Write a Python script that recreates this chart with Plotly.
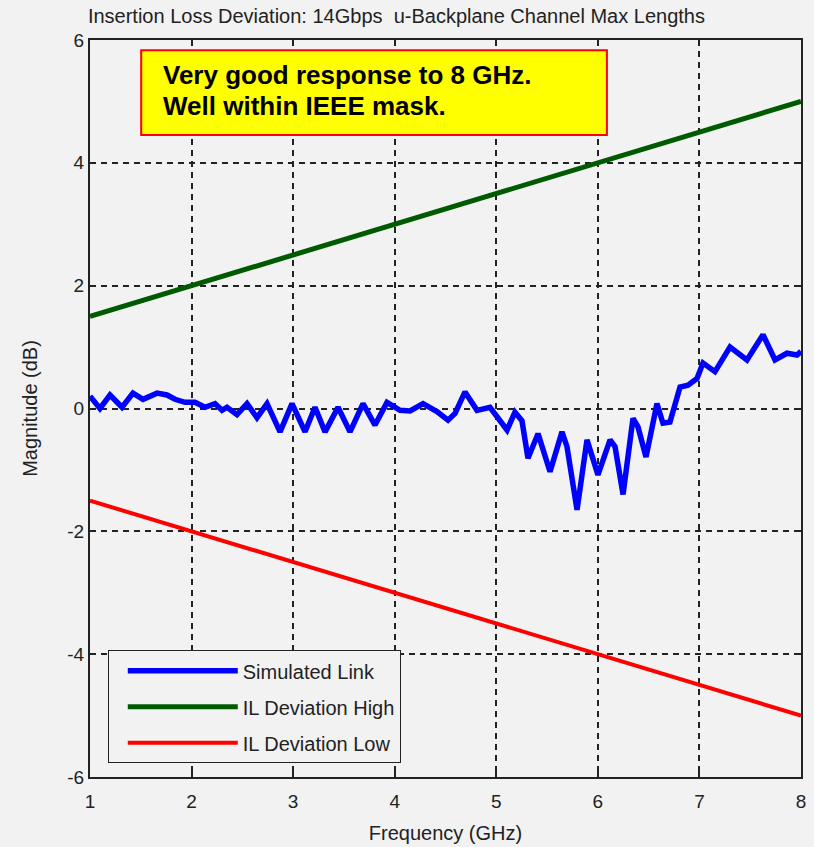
import plotly.graph_objects as go

# ---- data ----
freq_sim = [1.000, 1.098, 1.197, 1.315, 1.423, 1.522, 1.660, 1.758, 1.837, 1.935,
            2.034, 2.132, 2.231, 2.300, 2.349, 2.447, 2.546, 2.644, 2.743, 2.871,
            2.989, 3.117, 3.215, 3.314, 3.442, 3.560, 3.688, 3.806, 3.924, 4.052,
            4.151, 4.279, 4.416, 4.525, 4.594, 4.692, 4.810, 4.938, 5.106, 5.184,
            5.253, 5.312, 5.411, 5.529, 5.647, 5.696, 5.795, 5.893, 6.001, 6.120,
            6.169, 6.248, 6.346, 6.395, 6.474, 6.582, 6.641, 6.710, 6.809, 6.888,
            6.976, 7.035, 7.153, 7.301, 7.468, 7.626, 7.744, 7.862, 7.961, 8.000]
mag_sim = [0.20, 0.00, 0.22, 0.02, 0.25, 0.15, 0.25, 0.22, 0.15, 0.10,
           0.10, 0.02, 0.08, -0.03, 0.02, -0.10, 0.08, -0.15, 0.08, -0.38,
           0.08, -0.38, 0.02, -0.38, 0.02, -0.38, 0.08, -0.27, 0.10, -0.03,
           -0.04, 0.08, -0.05, -0.19, -0.08, 0.27, -0.03, 0.02, -0.35, -0.06,
           -0.20, -0.81, -0.41, -1.03, -0.38, -0.62, -1.65, -0.51, -1.08, -0.51,
           -0.62, -1.40, -0.16, -0.30, -0.79, 0.08, -0.24, -0.22, 0.35, 0.38,
           0.49, 0.74, 0.60, 1.00, 0.79, 1.20, 0.79, 0.90, 0.87, 0.93]

freq_mask = [1, 8]
mag_high = [1.5, 5.0]
mag_low = [-1.5, -5.0]

x_ticks = [1, 2, 3, 4, 5, 6, 7, 8]
y_ticks = [-6, -4, -2, 0, 2, 4, 6]

title_text = "Insertion Loss Deviation: 14Gbps  u-Backplane Channel Max Lengths"
note_lines = ["Very good response to 8 GHz.", "Well within IEEE mask."]

BG = "#f2f2f2"
FONT = "Liberation Sans, Arial, sans-serif"
INK = "#222222"

fig = go.Figure()
fig.add_trace(go.Scatter(x=freq_sim, y=mag_sim, mode="lines", name="Simulated Link",
                         legendgroup="a", line=dict(color="#0000ff", width=5.5)))
fig.add_trace(go.Scatter(x=freq_mask, y=mag_high, mode="lines", name="IL Deviation High",
                         legendgroup="b", line=dict(color="#005a00", width=5)))
fig.add_trace(go.Scatter(x=freq_mask, y=mag_low, mode="lines", name="IL Deviation Low",
                         legendgroup="c", line=dict(color="#ff0000", width=4)))

axis_common = dict(showline=True, linecolor=INK, linewidth=2, mirror="ticks",
                   ticks="inside", ticklen=6, tickcolor=INK, tickwidth=1.5,
                   showgrid=True, gridcolor=INK, gridwidth=1.5, griddash="6px,5px",
                   zeroline=False, automargin=False,
                   tickfont=dict(family=FONT, size=19, color=INK))

fig.update_xaxes(range=[1, 8], tickvals=x_ticks, ticktext=[str(v) for v in x_ticks],
                 ticklabelstandoff=6,
                 title=dict(text="Frequency (GHz)", font=dict(family=FONT, size=20, color=INK),
                            standoff=15),
                 **axis_common)
fig.update_yaxes(range=[-6, 6], tickvals=y_ticks, ticktext=[str(v) for v in y_ticks],
                 title=dict(text="Magnitude (dB)", font=dict(family=FONT, size=20, color=INK),
                            standoff=24),
                 **axis_common)

fig.add_shape(type="rect", xref="paper", yref="paper", x0=0.072, x1=0.727, y0=0.871, y1=0.986,
              fillcolor="#ffff00", line=dict(color="#ff0000", width=2), layer="above")
for line_text, ypos in zip(note_lines, [0.953, 0.910]):
    fig.add_annotation(xref="paper", yref="paper", x=0.10, y=ypos, xanchor="left",
                       yanchor="middle", text="<b>" + line_text + "</b>", showarrow=False,
                       align="left", font=dict(family=FONT, size=26, color="black"))

fig.update_layout(
    width=814, height=847,
    margin=dict(l=90, r=13, t=40, b=70, autoexpand=False),
    paper_bgcolor=BG, plot_bgcolor=BG,
    title=dict(text=title_text, x=0.108, xanchor="left", y=0.981, yanchor="middle",
               font=dict(family=FONT, size=20, color=INK)),
    legend=dict(x=0.025, y=0.172, xanchor="left", yanchor="top", bgcolor=BG,
                bordercolor=INK, borderwidth=1, itemwidth=110, indentation=14,
                tracegroupgap=7,
                font=dict(family=FONT, size=20, color=INK)),
    showlegend=True,
)

fig.write_html("out.html", config={"displayModeBar": False},
               post_script="document.body.style.margin='0';document.body.style.background='%s';" % BG)
